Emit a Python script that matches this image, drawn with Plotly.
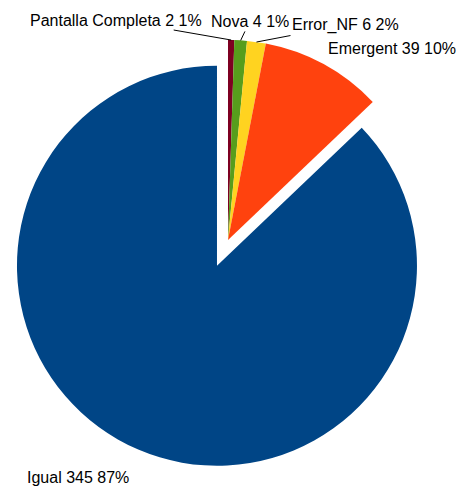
import math
import plotly.graph_objects as go

categories = ["Pantalla Completa", "Nova", "Error_NF", "Emergent", "Igual"]
values = [2, 4, 6, 39, 345]
colors = ["#7e0021", "#579d1c", "#ffd320", "#ff420e", "#004586"]
pulls = [0, 0, 0, 0, 0.14]

# label placement (style): pixel offset from slice's outer-edge midpoint to label centre
label_offsets = [(-115, -20), (9, -19), (89, -17), (68, -16), (-60, 28)]
label_leader = [True, True, True, False, False]

total = sum(values)
pct_text = [f"{round(v / total * 100)}%" for v in values]
label_text = [f"{c} {v} {p}" for c, v, p in zip(categories, values, pct_text)]

FONT = "Liberation Sans, Arial, sans-serif"
W, H = 456, 490
ML, MR, MT, MB = 0, 0, 12, 22
pw, ph = W - ML - MR, H - MT - MB

fig = go.Figure(go.Pie(
    labels=categories,
    values=values,
    textposition="none",
    sort=False,
    direction="clockwise",
    rotation=0,
    pull=pulls,
    marker=dict(colors=colors, line=dict(width=0)),
    showlegend=False,
    hoverinfo="skip",
    automargin=False,
    domain=dict(x=[0, 1], y=[0, 1]),
))

# geometry of the pie as Plotly lays it out (to anchor the labels on the slice edges)
r = min(pw, ph) / 2 / (1 + max(pulls))
cx, cy = ML + pw / 2, MT + ph / 2
cum = 0.0
annotations = []
for lab, v, off, lead, pl in zip(label_text, values, label_offsets, label_leader, pulls):
    mid = (cum + v / 2) / total * 2 * math.pi
    cum += v
    # slice centre shifted by pull, then out to its rim
    ex = cx + r * (1 + pl) * math.sin(mid)
    ey = cy - r * (1 + pl) * math.cos(mid)
    ann = dict(
        x=(ex - ML) / pw, y=1 - (ey - MT) / ph, xref="paper", yref="paper",
        text=lab, font=dict(family=FONT, size=16, color="#000000"),
    )
    if lead:
        ann.update(showarrow=True, arrowhead=0, arrowwidth=1, arrowcolor="#000000",
                   ax=off[0], ay=off[1], standoff=0, startstandoff=0)
    else:
        ann.update(showarrow=False, xshift=off[0], yshift=-off[1],
                   xanchor="center", yanchor="middle")
    annotations.append(ann)

fig.update_layout(
    width=W,
    height=H,
    margin=dict(l=ML, r=MR, t=MT, b=MB),
    paper_bgcolor="#ffffff",
    plot_bgcolor="#ffffff",
    annotations=annotations,
)

fig.write_html("out.html")
